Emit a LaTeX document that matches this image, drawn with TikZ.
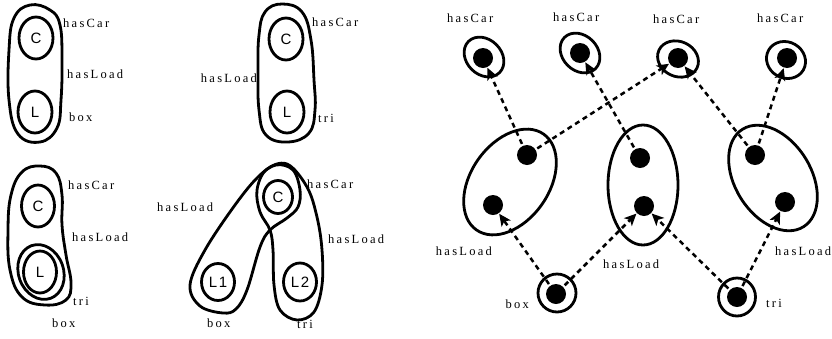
\documentclass[tikz,border=0pt]{standalone}
\usepackage{fontspec}
\setmainfont{Liberation Serif}
\newfontfamily\labfont[LetterSpace=18]{Liberation Serif}
\newfontfamily\letfont[LetterSpace=12]{Liberation Sans}
\usetikzlibrary{arrows.meta,shapes.geometric}
\begin{document}
\begin{tikzpicture}[x=1pt,y=-1pt,
  blob/.style={line width=2.8pt},
  lab/.style={font=\labfont\fontsize{12.5}{14}\selectfont, inner sep=0pt, text=black},
  ring/.style={ellipse, draw, line width=2.8pt, inner sep=0pt, font=\letfont\fontsize{15}{17}\selectfont},
  dot/.style={circle, fill=black, minimum size=20pt, inner sep=0pt},
  link/.style={line width=2.5pt, dash pattern=on 5pt off 4pt, shorten <=2pt, shorten >=0.5pt, -{Stealth[length=12pt,width=11pt,inset=3pt]}}
]
\useasboundingbox (0,0) rectangle (832,338);

% ---------- panel 1 ----------
\draw[blob] plot[smooth cycle, tension=0.7] coordinates {(30,5) (50,10) (60,25) (62,60) (61,100) (57,128) (40,142) (18,134) (9,100) (9,50) (14,18)};
\node[ring, minimum width=34pt, minimum height=42pt] (c1) at (36,38) {C};
\node[ring, minimum width=34pt, minimum height=42pt] (l1) at (35,112) {L};
\node[lab, anchor=base west] (p1car) at (63,27) {hasCar};
\node[lab, anchor=base west] (p1load) at (67,78) {hasLoad};
\node[lab, anchor=base west] (p1box) at (69,121) {box};

% ---------- panel 2 ----------
\draw[blob] plot[smooth cycle, tension=0.7] coordinates {(282,4) (302,12) (311,40) (314,80) (315,110) (309,133) (288,142) (266,135) (259,110) (258,70) (259,35) (265,12)};
\node[ring, minimum width=34pt, minimum height=42pt] (c2) at (286,39) {C};
\node[ring, minimum width=34pt, minimum height=42pt] (l2) at (287,112) {L};
\node[lab, anchor=base west] (p2car) at (312,26) {hasCar};
\node[lab, anchor=base east] (p2load) at (257,82) {hasLoad};
\node[lab, anchor=base west] (p2tri) at (318,122) {tri};

% ---------- panel 3 ----------
\draw[blob] plot[smooth cycle, tension=0.7] coordinates {(40,166) (56,173) (62,195) (62,225) (66,255) (71,283) (66,300) (45,305) (22,297) (10,270) (8,230) (11,195) (22,172)};
\node[ring, minimum width=33pt, minimum height=42pt] (c3) at (38,206) {C};
\node[ring, minimum width=33pt, minimum height=42pt] (l3) at (40,272) {L};
\draw[blob] (41,272) ellipse [x radius=22.5, y radius=28, rotate=20];
\node[lab, anchor=base west] (p3car) at (68,189) {hasCar};
\node[lab, anchor=base west] (p3load) at (72,241) {hasLoad};
\node[lab, anchor=base west] (p3tri) at (73,305) {tri};
\node[lab, anchor=base west] (p3box) at (52,327) {box};

% ---------- panel 4 ----------
\draw[blob] plot[smooth cycle, tension=0.6] coordinates {(276,165) (293,170) (300,190) (298,207) (287,218) (270,230) (260,247) (247,290) (236,309) (223,313) (200,306) (190,285) (205,250) (235,205) (258,177)};
\draw[blob] plot[smooth cycle, tension=0.6] coordinates {(287,164) (307,187) (317,217) (322,250) (322,285) (314,312) (297,320) (280,310) (274,285) (273,250) (270,230) (260,212) (257,190) (266,170)};
\node[ring, minimum width=29pt, minimum height=33pt] (c4) at (278,197) {C};
\node[ring, minimum width=33pt, minimum height=37pt] (l41) at (218,282) {L1};
\node[ring, minimum width=33pt, minimum height=38pt] (l42) at (300,282) {L2};
\node[lab, anchor=base west] (p4car) at (307,188) {hasCar};
\node[lab, anchor=base west] (p4loadl) at (157,211) {hasLoad};
\node[lab, anchor=base west] (p4loadr) at (328,243) {hasLoad};
\node[lab, anchor=base west] (p4box) at (207,327) {box};
\node[lab, anchor=base west] (p4tri) at (297,328) {tri};

% ---------- right panel ----------
% top rings
\node[ring, minimum width=44pt, minimum height=35pt, rotate=-45] (t1r) at (484,57) {};
\node[ring, minimum width=44pt, minimum height=35pt, rotate=-45] (t2r) at (580,53) {};
\node[ring, minimum width=42pt, minimum height=35pt, rotate=-25] (t3r) at (678,59) {};
\node[ring, minimum width=40pt, minimum height=36pt, rotate=-30] (t4r) at (786,60) {};
\node[dot] (t1) at (483,58) {};
\node[dot] (t2) at (580,53) {};
\node[dot] (t3) at (678,58) {};
\node[dot] (t4) at (787,58) {};
\node[lab, anchor=base west] (rc1) at (447,22) {hasCar};
\node[lab, anchor=base west] (rc2) at (553,21) {hasCar};
\node[lab, anchor=base west] (rc3) at (653,23) {hasCar};
\node[lab, anchor=base west] (rc4) at (757,22) {hasCar};
% middle ellipses
\node[ring, minimum width=117pt, minimum height=78pt, rotate=55] (e1) at (510,182) {};
\node[ring, minimum width=70pt, minimum height=120pt] (e2) at (643,185) {};
\node[ring, minimum width=115pt, minimum height=76pt, rotate=-58] (e3) at (773,178) {};
\node[dot] (e1a) at (527,155) {};
\node[dot] (e1b) at (493,205) {};
\node[dot] (e2a) at (640,158) {};
\node[dot] (e2b) at (644,206) {};
\node[dot] (e3a) at (755,155) {};
\node[dot] (e3b) at (785,202) {};
% bottom rings
\node[ring, minimum width=38pt, minimum height=38pt] (b1r) at (557,293) {};
\node[ring, minimum width=37pt, minimum height=38pt] (b2r) at (737,297) {};
\node[dot] (b1) at (556,294) {};
\node[dot] (b2) at (737,297) {};
\node[lab, anchor=base east] (rbox) at (529,308) {box};
\node[lab, anchor=base west] (rtri) at (766,307) {tri};
\node[lab, anchor=base east] (rl1) at (492,255) {hasLoad};
\node[lab, anchor=base west] (rl2) at (603,268) {hasLoad};
\node[lab, anchor=base west] (rl3) at (775,255) {hasLoad};
% links
\draw[link] (e1a) -- (t1);
\draw[link] (e1a) -- (t3);
\draw[link] (e2a) -- (t2);
\draw[link] (e3a) -- (t3);
\draw[link] (e3a) -- (t4);
\draw[link] (b1) -- (e1b);
\draw[link] (b1) -- (e2b);
\draw[link] (b2) -- (e2b);
\draw[link] (b2) -- (e3b);
\end{tikzpicture}
\end{document}
